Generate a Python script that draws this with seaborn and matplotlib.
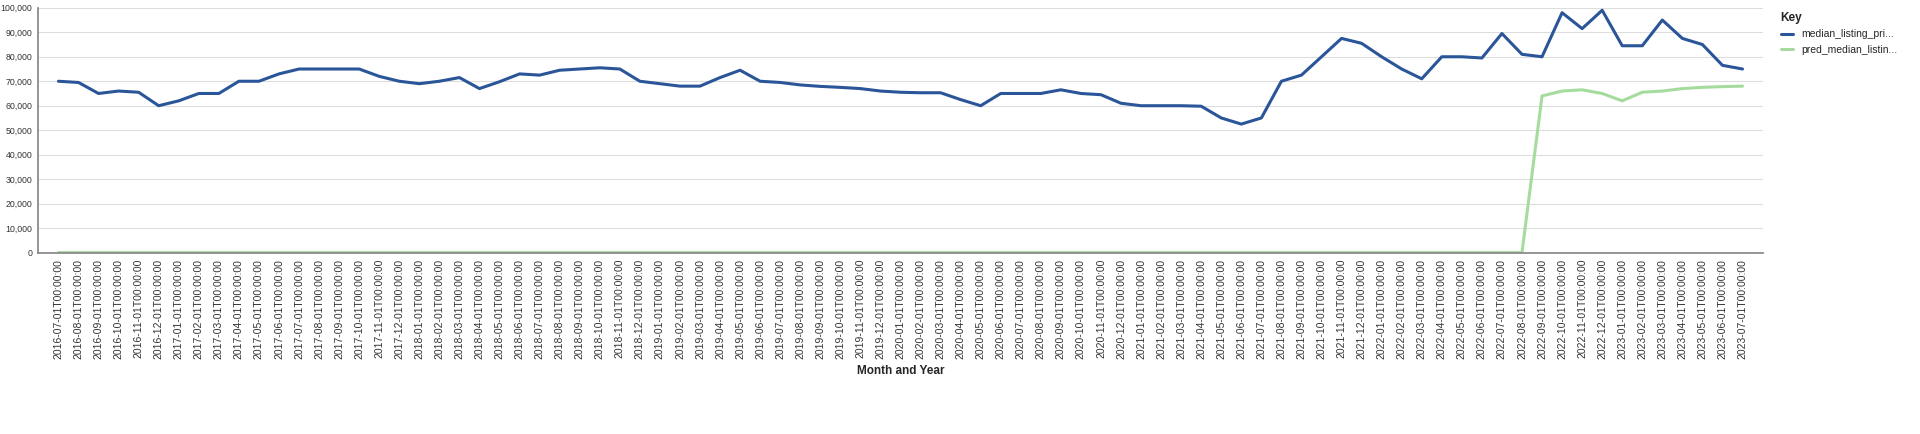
import matplotlib
matplotlib.use("Agg")
import matplotlib.pyplot as plt
import seaborn as sns
import pandas as pd
import numpy as np

months = pd.date_range("2016-07-01", "2023-07-01", freq="MS")
labels = [m.strftime("%Y-%m-%dT%H:%M:%S") for m in months]

median_listing_price = [
    70000, 69500, 65000, 66000, 65500, 60000, 62000, 65000, 65000, 70000,
    70000, 73000, 75000, 75000, 75000, 75000, 72000, 70000, 69000, 70000,
    71500, 67000, 69800, 73000, 72500, 74500, 75000, 75500, 75000, 70000,
    69000, 68000, 68000, 71500, 74500, 70000, 69500, 68500, 67900, 67500,
    67000, 66000, 65500, 65300, 65300, 62500, 60000, 65000, 65000, 65000,
    66500, 65000, 64500, 61000, 60000, 60000, 60000, 59800, 55000, 52500,
    55000, 70000, 72500, 80000, 87500, 85500, 80000, 75000, 71000, 80000,
    80000, 79500, 89500, 81000, 80000, 98000, 91500, 99000, 84500, 84500,
    95000, 87500, 85000, 76500, 75000,
]
pred_tail = [64000, 66000, 66500, 65000, 62000, 65500, 66000, 67000, 67500, 67800, 68000]
pred_median_listing_price = [0] * (len(labels) - len(pred_tail)) + pred_tail

df = pd.DataFrame({
    "x": np.arange(len(labels)),
    "median_listing_pri...": median_listing_price,
    "pred_median_listin...": pred_median_listing_price,
}).melt(id_vars="x", var_name="Key", value_name="price")

sns.set_theme(style="white")
plt.rcParams["font.family"] = ["Liberation Sans", "DejaVu Sans"]

fig, ax = plt.subplots(figsize=(19.2, 4.34), dpi=100)
fig.subplots_adjust(left=0.02, right=0.918, top=0.982, bottom=0.418)

sns.lineplot(data=df, x="x", y="price", hue="Key",
             palette=["#2a5599", "#a5dc9e"], linewidth=2.2, ax=ax)

ax.set_xlim(-1, len(labels))
ax.set_ylim(0, 100000)
ax.set_yticks(range(0, 100001, 10000))
ax.set_yticklabels([f"{v:,}" for v in range(0, 100001, 10000)], fontsize=6.3, color="#333333")
ax.set_xticks(np.arange(len(labels)))
ax.set_xticklabels(labels, rotation=90, fontsize=7.5, color="#333333")
ax.grid(axis="y", color="#dddddd", linewidth=0.8)
ax.tick_params(axis="both", length=3, color="#888888", pad=1.5)
for side in ["top", "right"]:
    ax.spines[side].set_visible(False)
ax.spines["left"].set_color("#888888")
ax.spines["bottom"].set_color("#888888")

ax.set_xlabel("Month and Year", fontsize=8.5, fontweight="bold")
ax.set_ylabel("Median Listing Price:", fontsize=7.8, fontweight="bold", labelpad=3)

leg = ax.legend(title="Key", loc="upper left", bbox_to_anchor=(1.005, 1.02),
                frameon=False, fontsize=7.5, title_fontsize=8.5,
                handlelength=1.2, alignment="left")
leg.get_title().set_fontweight("bold")

fig.savefig("out.png")
